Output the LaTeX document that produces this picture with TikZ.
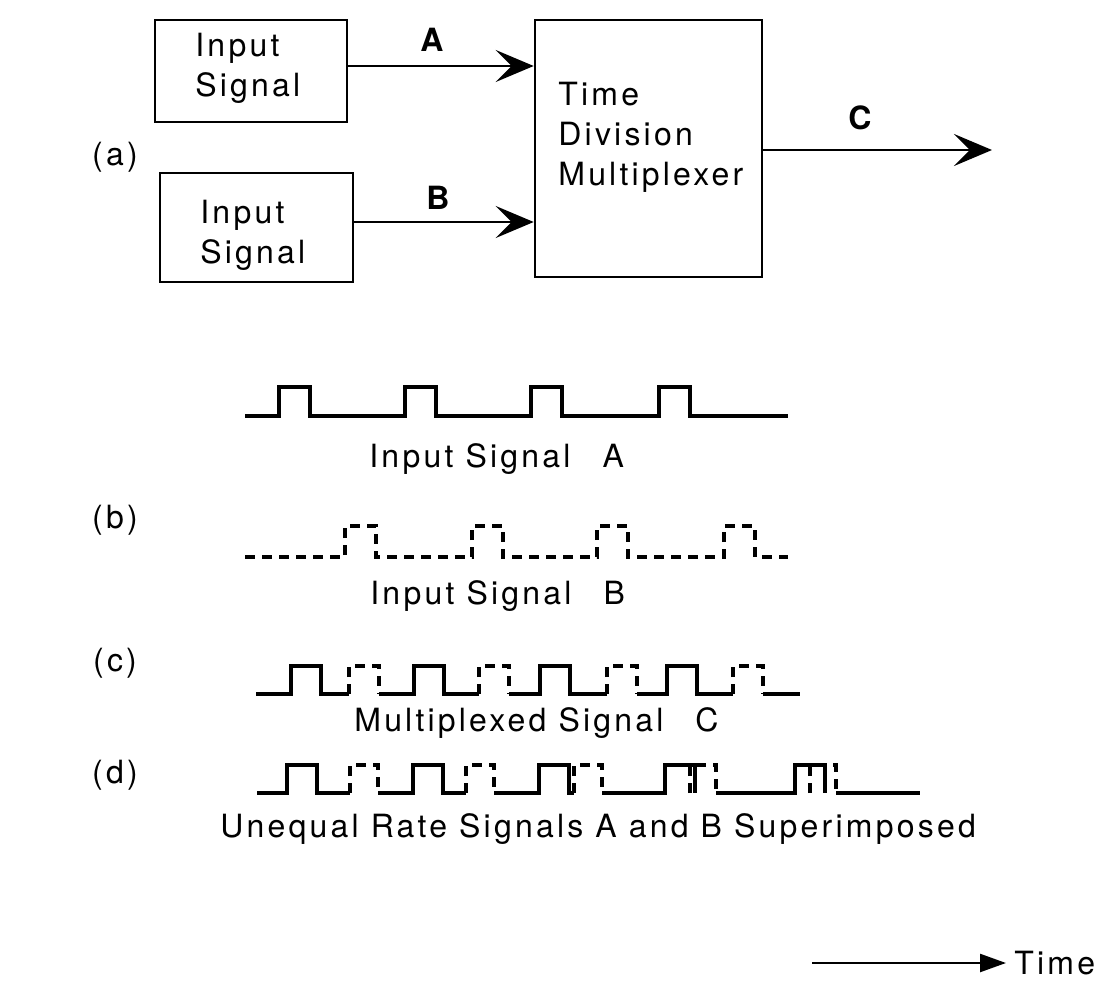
\documentclass[tikz,border=0pt]{standalone}
\usepackage{fontspec}
\setmainfont{TeX Gyre Heros}[LetterSpace=10]
\usetikzlibrary{arrows.meta}
\begin{document}
\begin{tikzpicture}[x=0.5pt,y=-0.5pt,
  box/.style={draw,line width=1.3pt,inner sep=0pt},
  txt/.style={font=\fontsize{16}{20}\selectfont,align=left,inner sep=0pt},
  lab/.style={font=\fontsize{16}{20}\selectfont\bfseries,inner sep=0pt},
  conn/.style={line width=1.4pt,-{Stealth[length=19pt,width=16pt,inset=8pt]}},
  wave/.style={line width=1.6pt,line join=miter},
  dwave/.style={wave,dash pattern=on 5pt off 3.5pt},
  tarrow/.style={line width=1.2pt,-{Triangle[length=13pt,width=9pt]}}
]
\useasboundingbox (0,0) rectangle (1105,985);

% ---- (a) block diagram
\node[box,minimum width=96pt,minimum height=51pt] (box1) at (251,71) {};
\node[box,minimum width=96.5pt,minimum height=54.5pt] (box2) at (256.5,227.5) {};
\node[box,minimum width=113.5pt,minimum height=128.5pt] (tdm) at (648.5,148.5) {};

\node[txt,anchor=north west] (t1) at (195,33) {Input\\Signal};
\node[txt,anchor=north west] (t2) at (200,200) {Input\\Signal};
\node[txt,anchor=north west] (t3) at (558,82) {Time\\Division\\Multiplexer};

\coordinate (ya) at (0,66);
\coordinate (yb) at (0,222);
\coordinate (yc) at (0,150);
\coordinate (cend) at (992,150);

\draw[conn] (box1.east |- ya) -- (tdm.west |- ya);
\draw[conn] (box2.east |- yb) -- (tdm.west |- yb);
\draw[conn] (tdm.east |- yc) -- (cend);

\node[lab] (la) at (432,40) {A};
\node[lab] (lb) at (438,198) {B};
\node[lab] (lc) at (860,118) {C};

\node[txt] (pa) at (115,157) {(a)};
\node[txt] (pb) at (115,520) {(b)};
\node[txt] (pc) at (115,663) {(c)};
\node[txt] (pd) at (115,775) {(d)};

% ---- (b) input signal A
\draw[wave] (245,416) foreach \r in {279,405,531,659} { -- (\r,416) -- (\r,387) -- (\r+31,387) -- (\r+31,416) } -- (788,416);
\node[txt,anchor=base west] (sa) at (369,467) {Input Signal\quad A};

% ---- input signal B
\draw[dwave] (245,557) foreach \r in {345,472,597,724} { -- (\r,557) -- (\r,526) -- (\r+31,526) -- (\r+31,557) } -- (788,557);
\node[txt,anchor=base west] (sb) at (370,604) {Input Signal\quad B};

% ---- (c) multiplexed
\draw[wave] (256,694) foreach \a/\b in {291/349,414/479,540/607,667/733} { -- (\a,694) -- (\a,666) -- (\a+30,666) -- (\a+30,694) -- (\b,694) (\b+30,694) } -- (800,694);
\draw[dwave] foreach \b in {349,479,607,733} { (\b,694) -- (\b,666) -- (\b+30,666) -- (\b+30,694) };
\node[txt,anchor=base west] (sc) at (354,731) {Multiplexed Signal\quad C};

% ---- (d) unequal rate
\draw[wave] (257,793) foreach \a/\b in {287/350,413/466,539/574} { -- (\a,793) -- (\a,765) -- (\a+30,765) -- (\a+30,793) -- (\b,793) (\b+28,793) } -- (665,793) -- (665,765) -- (695,765) -- (695,793) (716,793) -- (795,793) -- (795,765) -- (825,765) -- (825,793) (836,793) -- (920,793);
\draw[dwave] foreach \b/\w in {350/28,466/28,574/28,690/26,810/26} { (\b,793) -- (\b,765) -- (\b+\w,765) -- (\b+\w,793) };
\node[txt,anchor=base west] (sd) at (220,837) {Unequal Rate Signals A and B Superimposed};

% ---- time arrow
\coordinate (t0) at (812,963);
\node[txt,anchor=west,inner xsep=4pt] (time) at (1006,963) {Time};
\draw[tarrow] (t0) -- (time.west);
\end{tikzpicture}
\end{document}
